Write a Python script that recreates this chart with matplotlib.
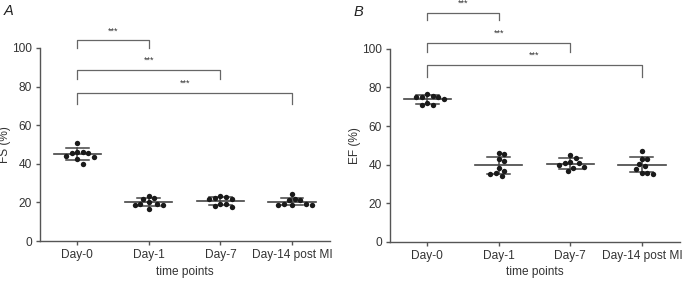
import numpy as np
import matplotlib.pyplot as plt

plt.rcParams['font.family'] = ['Liberation Sans', 'DejaVu Sans']

# ----------------------------
# data
# ----------------------------
categories = ["Day-0", "Day-1", "Day-7", "Day-14 post MI"]

fs_points = [
    [51.0, 46.3, 45.8, 44.0, 43.5, 42.5, 45.5, 46.0, 40.0],
    [23.5, 22.2, 21.8, 19.4, 18.8, 16.8, 18.5, 19.2, 20.3],
    [22.5, 22.0, 21.8, 22.6, 23.3, 19.2, 17.9, 17.7, 19.3],
    [24.5, 21.8, 21.5, 21.2, 19.0, 18.8, 18.7, 18.9, 19.0],
]
fs_mean = [45.0, 20.1, 20.6, 20.4]
fs_sd = [3.0, 2.2, 2.0, 1.8]

ef_points = [
    [76.5, 75.2, 74.8, 74.2, 75.0, 75.8, 71.8, 70.8, 70.9],
    [45.9, 45.6, 42.1, 42.8, 38.5, 35.7, 34.2, 35.0, 36.9],
    [43.5, 45.1, 41.0, 40.7, 41.2, 38.7, 38.5, 39.8, 36.6],
    [47.1, 42.8, 43.0, 40.4, 39.2, 37.5, 35.6, 35.3, 35.6],
]
ef_mean = [73.9, 39.6, 40.5, 39.9]
ef_sd = [2.3, 4.4, 2.8, 3.9]

# brackets: (group a, group b, top y, leg bottom y, label)
fs_brackets = [(0, 1, 104, 100, "***"), (0, 2, 88.6, 84, "***"), (0, 3, 76.7, 71, "***")]
ef_brackets = [(0, 1, 118.6, 115, "***"), (0, 2, 103, 98.5, "***"), (0, 3, 91.7, 85.5, "***")]


def swarm_offsets(values, ax, min_dist=5.6):
    # simple beeswarm in pixel space so dots do not overlap
    bbox = ax.get_window_extent()
    x0, x1 = ax.get_xlim()
    y0, y1 = ax.get_ylim()
    px_per_x = bbox.width / (x1 - x0)
    px_per_y = bbox.height / (y1 - y0)
    order = np.argsort(values)[::-1]
    placed = []
    offsets = np.zeros(len(values))
    for i in order:
        ypx = values[i] * px_per_y
        k = 0
        while True:
            cands = [0] if k == 0 else [k * 2.8, -k * 2.8]
            done = False
            for c in cands:
                ok = all((c - px) ** 2 + (ypx - py) ** 2 >= min_dist ** 2 for px, py in placed)
                if ok:
                    placed.append((c, ypx))
                    offsets[i] = c / px_per_x
                    done = True
                    break
            if done:
                break
            k += 1
    return offsets


def draw_panel(ax, points, means, sds, brackets, ylabel, letter, ylab_x):
    ax.set_xlim(-0.52, 3.53)
    ax.set_ylim(0, 100)
    for side in ["top", "right"]:
        ax.spines[side].set_visible(False)
    for side in ["left", "bottom"]:
        ax.spines[side].set_color("#555555")
        ax.spines[side].set_linewidth(1.0)
    ax.tick_params(colors="#555555", labelcolor="#333333", labelsize=8.6, length=3, width=1.0,
                   pad=3)
    ax.set_xticks(range(len(categories)))
    ax.set_xticklabels(categories)
    ax.set_yticks([0, 20, 40, 60, 80, 100])
    ax.set_xlabel("time points", fontsize=8.6, color="#333333", labelpad=3)
    ax.set_ylabel(ylabel, fontsize=8.6, color="#333333")
    ax.yaxis.set_label_coords(ylab_x, 0.5)

    for i, vals in enumerate(points):
        vals = np.array(vals)
        off = swarm_offsets(vals, ax)
        ax.scatter(i + off, vals, s=15, color="#1a1a1a", zorder=3, linewidths=0)
        m, s = means[i], sds[i]
        ax.plot([i - 0.33, i + 0.33], [m, m], color="#444444", lw=1.2, zorder=2)
        ax.plot([i - 0.16, i + 0.16], [m + s, m + s], color="#444444", lw=1.1, zorder=2)
        ax.plot([i - 0.16, i + 0.16], [m - s, m - s], color="#444444", lw=1.1, zorder=2)
        ax.plot([i, i], [m - s, m + s], color="#444444", lw=1.1, zorder=2)

    for a, b, top, bot, lab in brackets:
        ax.plot([a, a, b, b], [bot, top, top, bot], color="#666666", lw=0.9, clip_on=False)
        ax.text((a + b) / 2, top + 2.5, lab, ha="center", va="bottom", fontsize=6.5,
                color="#333333", clip_on=False)

    ax.text(-0.125, 1.228, letter, transform=ax.transAxes, fontsize=10.5, style="italic",
            color="#222222", ha="left", va="top")


fig = plt.figure(figsize=(6.82, 2.89), dpi=100)
ax_a = fig.add_axes([0.0587, 0.166, 0.425, 0.668])
ax_b = fig.add_axes([0.5718, 0.163, 0.425, 0.668])

draw_panel(ax_a, fs_points, fs_mean, fs_sd, fs_brackets, "FS (%)", "A", -0.1)
draw_panel(ax_b, ef_points, ef_mean, ef_sd, ef_brackets, "EF (%)", "B", -0.1)

fig.savefig("out.png", dpi=100)
